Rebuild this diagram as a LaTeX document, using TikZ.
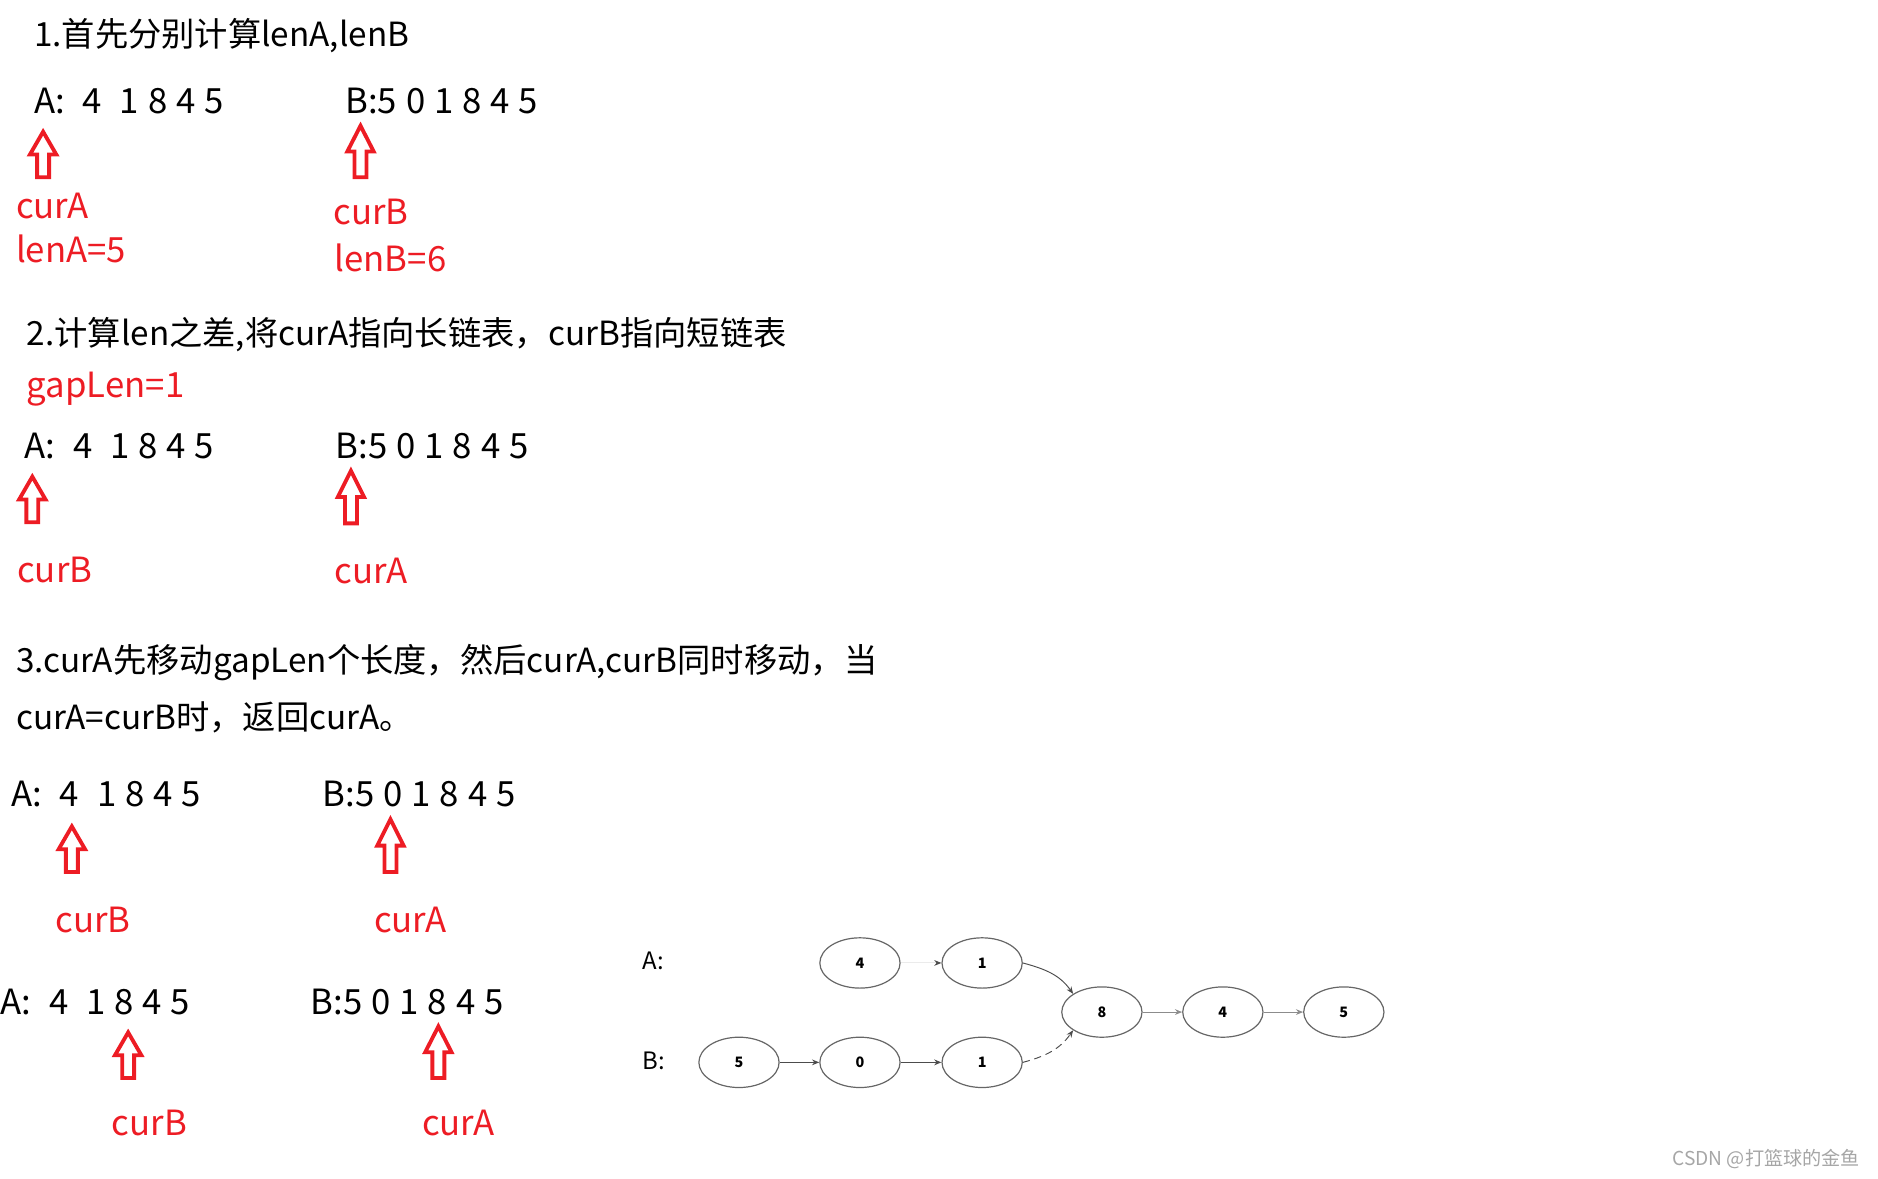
\documentclass[tikz,border=0pt]{standalone}
\usepackage{fontspec}
\setmainfont{Noto Sans CJK SC}
\newfontfamily\rowfont[WordSpace=1.15]{Noto Sans CJK SC}
\usetikzlibrary{shapes.geometric,arrows.meta}
\definecolor{markred}{RGB}{237,28,36}
\newcommand{\pointer}[3]{
	\draw[markred, line width=1.6pt, line join=miter]
		(#1,#2) -- (#1+11,{#2+0.5*(#3-#2)}) -- (#1+5,{#2+0.5*(#3-#2)}) -- (#1+5,#3)
		-- (#1-5,#3) -- (#1-5,{#2+0.5*(#3-#2)}) -- (#1-11,{#2+0.5*(#3-#2)}) -- cycle;
}

\begin{document}
\begin{tikzpicture}[x=0.5pt,y=-0.5pt,
	txt/.style={anchor=west, inner sep=0pt, font=\fontsize{13.9}{17}\selectfont},
	row/.style={anchor=west, inner sep=0pt, font=\rowfont\fontsize{14.5}{17}\selectfont},
	note/.style={anchor=west, inner sep=0pt, text=markred, font=\fontsize{14.5}{17}\selectfont},
	listnode/.style={ellipse, draw=black!60, line width=0.5pt, minimum width=33.5pt, minimum height=21pt, inner sep=0pt, font=\bfseries\fontsize{6}{7}\selectfont},
	link/.style={-{Stealth[length=3pt,width=2.4pt]}, draw=black!70, line width=0.4pt}]
	\useasboundingbox (0,0) rectangle (1568,984);

	\node[txt] (step1) at (28,30) {1.首先分别计算lenA,lenB};
	\node[row] (listA1) at (28,84) {A:~~4~~1 8 4 5};
	\node[row] (listB1) at (288,84) {B:5 0 1 8 4 5};
	\pointer{36}{110}{148}
	\pointer{301}{105}{148}
	\node[note] (curA1) at (13,172) {curA};
	\node[note] (lenA) at (13,208) {lenA=5};
	\node[note] (curB1) at (278,177) {curB};
	\node[note] (lenB) at (279,215) {lenB=6};

	\node[txt] (step2) at (22,279) {2.计算len之差,将curA指向长链表，curB指向短链表};
	\node[note] (gapLen) at (22,325) {gapLen=1};
	\node[row] (listA2) at (20,372) {A:~~4~~1 8 4 5};
	\node[row] (listB2) at (280,372) {B:5 0 1 8 4 5};
	\pointer{27}{398}{436}
	\pointer{293}{393}{437}
	\node[note] (curB2) at (14,476) {curB};
	\node[note] (curA2) at (279,477) {curA};

	\node[txt] (step3a) at (13,553) {3.curA先移动gapLen个长度，然后curA,curB同时移动，当};
	\node[txt] (step3b) at (13,599) {curA=curB时，返回curA。};
	\node[row] (listA3) at (9,663) {A:~~4~~1 8 4 5};
	\node[row] (listB3) at (269,663) {B:5 0 1 8 4 5};
	\pointer{60}{690}{728}
	\pointer{326}{684}{728}
	\node[note] (curB3) at (46,768) {curB};
	\node[note] (curA3) at (312,768) {curA};

	\node[row] (listA4) at (0,837) {A:~~4~~1 8 4 5};
	\node[row] (listB4) at (259,837) {B:5 0 1 8 4 5};
	\pointer{107}{862}{900}
	\pointer{366}{857}{900}
	\node[note] (curB4) at (93,938) {curB};
	\node[note] (curA4) at (352,938) {curA};

	\node[anchor=west, inner sep=0pt, font=\fontsize{10}{12}\selectfont] (headA) at (536,802) {A:};
	\node[anchor=west, inner sep=0pt, font=\fontsize{10}{12}\selectfont] (headB) at (536,886) {B:};
	\node[listnode] (a4) at (718,804) {4};
	\node[listnode] (a1) at (820,804) {1};
	\node[listnode] (c8) at (920,845) {8};
	\node[listnode] (c4) at (1021,845) {4};
	\node[listnode] (c5) at (1122,845) {5};
	\node[listnode] (b5) at (617,887) {5};
	\node[listnode] (b0) at (718,887) {0};
	\node[listnode] (b1) at (820,887) {1};

	\draw[link, draw=black!8, -{Stealth[length=3pt,width=2.4pt,color=black!70]}] (a4) -- (a1);
	\draw[link] (a1.east) to[out=-15,in=125] (c8.north west);
	\draw[link, densely dashed] (b1.east) to[out=15,in=-125] (c8.south west);
	\draw[link, draw=black!45] (c8) -- (c4);
	\draw[link, draw=black!45] (c4) -- (c5);
	\draw[link] (b5) -- (b0);
	\draw[link] (b0) -- (b1);

	\node[anchor=west, inner sep=0pt, text=black!35, font=\fontsize{8}{10}\selectfont] (mark) at (1396,968) {CSDN @打篮球的金鱼};
\end{tikzpicture}
\end{document}
